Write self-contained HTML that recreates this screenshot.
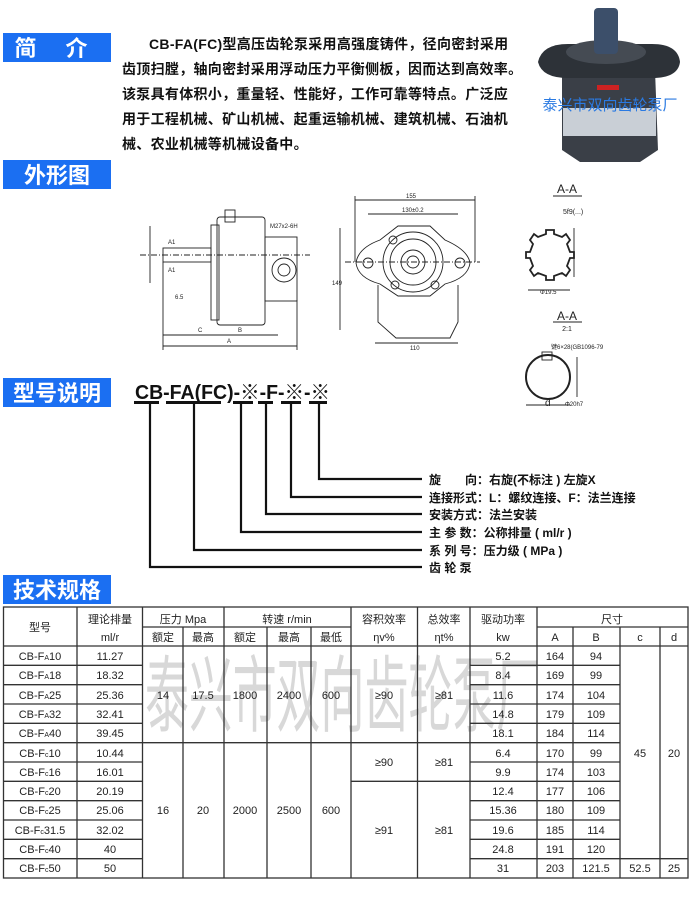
<!DOCTYPE html>
<html><head><meta charset="utf-8"><style>
html,body{margin:0;padding:0;background:#fff;}
body{width:692px;height:900px;overflow:hidden;position:relative;font-family:"Liberation Sans","Noto Sans CJK SC",sans-serif;}
.box{position:absolute;left:3px;width:108px;height:29px;background:#1b6ff2;color:#fff;font-weight:bold;font-size:22px;line-height:29px;text-align:center;font-family:"Noto Sans CJK SC",sans-serif;}
.para{position:absolute;left:122px;top:32px;width:410px;font-size:14px;letter-spacing:0.3px;font-weight:bold;line-height:25px;color:#111;font-family:"Liberation Sans","Noto Sans CJK SC",sans-serif;}
svg text{font-family:"Liberation Sans","Noto Sans CJK SC",sans-serif;}
</style></head><body>
<div class="box" style="top:33px;letter-spacing:12px;">简 介</div>
<div class="box" style="top:160px;">外形图</div>
<div class="box" style="top:378px;">型号说明</div>
<div class="box" style="top:575px;">技术规格</div>
<div class="para"><span style="padding-left:27px"></span>CB-FA(FC)型高压齿轮泵采用高强度铸件，径向密封采用<br>齿顶扫膛，轴向密封采用浮动压力平衡侧板，因而达到高效率。<br>该泵具有体积小，重量轻、性能好，工作可靠等特点。广泛应<br>用于工程机械、矿山机械、起重运输机械、建筑机械、石油机<br>械、农业机械等机械设备中。</div>
<svg width="692" height="900" style="position:absolute;left:0;top:0" xmlns="http://www.w3.org/2000/svg">
<!-- pump photo -->
<g>
<path d="M562 70 L655 70 L658 150 L640 162 L580 162 L562 150 Z" fill="#3a3f47"/>
<rect x="563" y="108" width="93" height="28" fill="#c9cfd6"/>
<path d="M538 62 Q542 44 568 44 L652 44 Q678 44 680 62 Q678 78 652 78 L568 78 Q542 78 538 62 Z" fill="#2d3238"/>
<ellipse cx="606" cy="52" rx="40" ry="12" fill="#454b53"/>
<rect x="594" y="8" width="24" height="46" rx="4" fill="#3c4f6a"/>
<rect x="597" y="85" width="22" height="5" fill="#c22"/>
<text x="610" y="110" font-size="15" fill="#2a7ae2" text-anchor="middle" font-family="Noto Sans CJK SC,sans-serif">泰兴市双向齿轮泵厂</text>
</g>
<!-- side view -->
<g stroke="#222" stroke-width="0.9" fill="none">
<rect x="217" y="217" width="48" height="108" rx="3"/>
<rect x="211" y="225" width="8" height="95"/>
<rect x="163" y="248" width="48" height="14"/>
<rect x="265" y="237" width="32" height="64"/>
<circle cx="284" cy="270" r="12"/><circle cx="284" cy="270" r="6"/>
<rect x="225" y="210" width="10" height="12"/>
<line x1="150" y1="226" x2="150" y2="283"/>
<line x1="163" y1="346" x2="297" y2="346"/><line x1="163" y1="335" x2="197" y2="335"/><line x1="197" y1="335" x2="278" y2="335"/>
<line x1="163" y1="262" x2="163" y2="350"/><line x1="297" y1="300" x2="297" y2="350"/>
<line x1="140" y1="255" x2="310" y2="255" stroke-dasharray="6 2 1 2"/>
</g>
<g font-size="6" fill="#222"><text x="198" y="332">C</text><text x="238" y="332">B</text><text x="227" y="343">A</text><text x="168" y="244">A1</text><text x="168" y="272">A1</text><text x="175" y="299">6.5</text><text x="270" y="228">M27x2-6H</text></g>
<!-- front view -->
<g stroke="#222" stroke-width="0.9" fill="none">
<path d="M356 263 Q358 248 380 240 L398 226 L430 226 L445 240 Q468 250 470 263 Q468 278 445 284 L430 296 L398 296 L380 284 Q358 278 356 263 Z"/>
<path d="M378 285 L378 322 L396 338 L450 338 L458 322 L458 285"/>
<circle cx="413" cy="262" r="30"/><circle cx="413" cy="262" r="23"/><circle cx="413" cy="262" r="12"/><circle cx="413" cy="262" r="6"/>
<circle cx="368" cy="263" r="5"/><circle cx="460" cy="263" r="5"/>
<circle cx="393" cy="240" r="4"/><circle cx="395" cy="285" r="4"/><circle cx="435" cy="285" r="4"/>
<line x1="355" y1="200" x2="475" y2="200"/><line x1="368" y1="214" x2="458" y2="214"/>
<line x1="375" y1="343" x2="458" y2="343"/><line x1="340" y1="228" x2="340" y2="330"/>
<line x1="355" y1="196" x2="355" y2="262"/><line x1="475" y1="196" x2="475" y2="262"/>
<line x1="345" y1="262" x2="480" y2="262" stroke-dasharray="6 2 1 2"/>
</g>
<g font-size="6" fill="#222"><text x="406" y="198">155</text><text x="402" y="212">130±0.2</text><text x="410" y="350">110</text><text x="332" y="285">149</text></g>
<!-- A-A sections -->
<g fill="#222"><text x="567" y="193" font-size="12" text-anchor="middle" font-family="Liberation Serif,serif">A-A</text><line x1="553" y1="196" x2="582" y2="196" stroke="#222"/>
<text x="567" y="320" font-size="12" text-anchor="middle" font-family="Liberation Serif,serif">A-A</text><line x1="553" y1="322" x2="582" y2="322" stroke="#222"/><text x="567" y="331" font-size="7" text-anchor="middle">2:1</text>
<text x="563" y="214" font-size="7">5f9(...)</text><text x="540" y="294" font-size="6">Φ19.5</text><text x="551" y="349" font-size="6">键6×28(GB1096-79</text><text x="545" y="406" font-size="10" font-family="Liberation Serif,serif">d</text><text x="565" y="406" font-size="6">Φ20h7</text></g>
<g stroke="#222" stroke-width="0.9" fill="none">
<path d="M546 230 h8 v4 l8 3 l4 -3 l4 6 l-3 4 l3 8 l4 0 v6 l-4 0 l-3 8 l3 4 l-4 6 l-4 -3 l-8 3 v4 h-8 v-4 l-8 -3 l-4 3 l-4 -6 l3 -4 l-3 -8 l-4 0 v-6 l4 0 l3 -8 l-3 -4 l4 -6 l4 3 l8 -3 z" stroke-width="1.8"/>
<circle cx="548" cy="377" r="22" stroke-width="2"/>
<rect x="542" y="352" width="10" height="8"/>
<line x1="574" y1="228" x2="574" y2="277"/><line x1="528" y1="290" x2="570" y2="290"/><line x1="526" y1="405" x2="570" y2="405"/>
<line x1="577" y1="357" x2="577" y2="397"/>
</g>
<!-- model code -->
<text x="135" y="399" font-size="20" font-weight="bold" fill="#111" textLength="195" lengthAdjust="spacingAndGlyphs">CB-FA(FC)-※-F-※-※</text>
<g fill="#111">
<rect x="134" y="401" width="25" height="3"/><rect x="166" y="401" width="55" height="3"/><rect x="233" y="401" width="20" height="3"/><rect x="258" y="401" width="15" height="3"/><rect x="281" y="401" width="20" height="3"/><rect x="309" y="401" width="18" height="3"/>
</g>
<g stroke="#111" stroke-width="2.2" fill="none">
<path d="M150 403 V567 H422"/><path d="M194 403 V550 H422"/><path d="M241 403 V532 H422"/><path d="M266 403 V514 H422"/><path d="M291 403 V497 H422"/><path d="M319 403 V479 H422"/>
</g>
<g font-size="12" font-weight="bold" fill="#111">
<text x="429" y="484">旋　　向：右旋(不标注 ) 左旋X</text>
<text x="429" y="502">连接形式：L：螺纹连接、F：法兰连接</text>
<text x="429" y="519">安装方式：法兰安装</text>
<text x="429" y="537">主 参 数：公称排量 ( ml/r )</text>
<text x="429" y="555">系 列 号：压力级 ( MPa )</text>
<text x="429" y="572">齿 轮 泵</text>
</g>
<!-- table watermark -->
<text transform="translate(145,725) scale(1,1.9)" font-size="44" fill="#d8d8d8" font-family="Noto Sans CJK SC,sans-serif" textLength="395" lengthAdjust="spacingAndGlyphs">泰兴市双向齿轮泵厂</text>
<!-- table -->
<g stroke="#333" stroke-width="1.3" fill="none">
<rect x="3.5" y="607" width="684.5" height="271"/>
<line x1="77" y1="607" x2="77" y2="878"/><line x1="142.5" y1="607" x2="142.5" y2="878"/>
<line x1="183" y1="627" x2="183" y2="878"/><line x1="224" y1="607" x2="224" y2="878"/>
<line x1="267" y1="627" x2="267" y2="878"/><line x1="311" y1="627" x2="311" y2="878"/>
<line x1="351" y1="607" x2="351" y2="878"/><line x1="417.5" y1="607" x2="417.5" y2="878"/>
<line x1="470" y1="607" x2="470" y2="878"/><line x1="537" y1="607" x2="537" y2="878"/>
<line x1="573" y1="627" x2="573" y2="878"/><line x1="620" y1="627" x2="620" y2="878"/><line x1="660" y1="627" x2="660" y2="878"/>
<line x1="142.5" y1="627" x2="351" y2="627"/><line x1="537" y1="627" x2="688" y2="627"/>
<line x1="3.5" y1="646" x2="688" y2="646"/>
<line x1="3.5" y1="665.3" x2="142.5" y2="665.3"/><line x1="470" y1="665.3" x2="620" y2="665.3"/>
<line x1="3.5" y1="684.7" x2="142.5" y2="684.7"/><line x1="470" y1="684.7" x2="620" y2="684.7"/>
<line x1="3.5" y1="704" x2="142.5" y2="704"/><line x1="470" y1="704" x2="620" y2="704"/>
<line x1="3.5" y1="723.3" x2="142.5" y2="723.3"/><line x1="470" y1="723.3" x2="620" y2="723.3"/>
<line x1="3.5" y1="742.7" x2="470" y2="742.7"/><line x1="470" y1="742.7" x2="620" y2="742.7"/>
<line x1="3.5" y1="762" x2="142.5" y2="762"/><line x1="470" y1="762" x2="620" y2="762"/>
<line x1="3.5" y1="781.3" x2="142.5" y2="781.3"/><line x1="351" y1="781.3" x2="470" y2="781.3"/><line x1="470" y1="781.3" x2="620" y2="781.3"/>
<line x1="3.5" y1="800.7" x2="142.5" y2="800.7"/><line x1="470" y1="800.7" x2="620" y2="800.7"/>
<line x1="3.5" y1="820" x2="142.5" y2="820"/><line x1="470" y1="820" x2="620" y2="820"/>
<line x1="3.5" y1="839.3" x2="142.5" y2="839.3"/><line x1="470" y1="839.3" x2="620" y2="839.3"/>
<line x1="3.5" y1="858.7" x2="142.5" y2="858.7"/><line x1="470" y1="858.7" x2="688" y2="858.7"/>
</g>
<g font-size="11" fill="#222" text-anchor="middle" font-family="Liberation Mono,Noto Sans CJK SC,monospace">
<text x="40" y="631" font-family="Noto Sans CJK SC,sans-serif">型号</text>
<text x="110" y="623" font-family="Noto Sans CJK SC,sans-serif">理论排量</text><text x="110" y="641">ml/r</text>
<text x="183" y="623"><tspan font-family="Noto Sans CJK SC,sans-serif">压力</tspan> Mpa</text>
<text x="163" y="641" font-family="Noto Sans CJK SC,sans-serif">额定</text><text x="203" y="641" font-family="Noto Sans CJK SC,sans-serif">最高</text>
<text x="287" y="623"><tspan font-family="Noto Sans CJK SC,sans-serif">转速</tspan> r/min</text>
<text x="245" y="641" font-family="Noto Sans CJK SC,sans-serif">额定</text><text x="289" y="641" font-family="Noto Sans CJK SC,sans-serif">最高</text><text x="331" y="641" font-family="Noto Sans CJK SC,sans-serif">最低</text>
<text x="384" y="623" font-family="Noto Sans CJK SC,sans-serif">容积效率</text><text x="384" y="641">ηv%</text>
<text x="444" y="623" font-family="Noto Sans CJK SC,sans-serif">总效率</text><text x="444" y="641">ηt%</text>
<text x="503" y="623" font-family="Noto Sans CJK SC,sans-serif">驱动功率</text><text x="503" y="641">kw</text>
<text x="612" y="623" font-family="Noto Sans CJK SC,sans-serif">尺寸</text>
<text x="555" y="641">A</text><text x="596" y="641">B</text><text x="640" y="641">c</text><text x="674" y="641">d</text>
<text x="40" y="660">CB-F<tspan font-size="7">A</tspan>10</text><text x="110" y="660">11.27</text><text x="503" y="660">5.2</text><text x="555" y="660">164</text><text x="596" y="660">94</text>
<text x="40" y="679">CB-F<tspan font-size="7">A</tspan>18</text><text x="110" y="679">18.32</text><text x="503" y="679">8.4</text><text x="555" y="679">169</text><text x="596" y="679">99</text>
<text x="40" y="699">CB-F<tspan font-size="7">A</tspan>25</text><text x="110" y="699">25.36</text><text x="503" y="699">11.6</text><text x="555" y="699">174</text><text x="596" y="699">104</text>
<text x="40" y="718">CB-F<tspan font-size="7">A</tspan>32</text><text x="110" y="718">32.41</text><text x="503" y="718">14.8</text><text x="555" y="718">179</text><text x="596" y="718">109</text>
<text x="40" y="737">CB-F<tspan font-size="7">A</tspan>40</text><text x="110" y="737">39.45</text><text x="503" y="737">18.1</text><text x="555" y="737">184</text><text x="596" y="737">114</text>
<text x="40" y="757">CB-F<tspan font-size="7">c</tspan>10</text><text x="110" y="757">10.44</text><text x="503" y="757">6.4</text><text x="555" y="757">170</text><text x="596" y="757">99</text>
<text x="40" y="776">CB-F<tspan font-size="7">c</tspan>16</text><text x="110" y="776">16.01</text><text x="503" y="776">9.9</text><text x="555" y="776">174</text><text x="596" y="776">103</text>
<text x="40" y="795">CB-F<tspan font-size="7">c</tspan>20</text><text x="110" y="795">20.19</text><text x="503" y="795">12.4</text><text x="555" y="795">177</text><text x="596" y="795">106</text>
<text x="40" y="814">CB-F<tspan font-size="7">c</tspan>25</text><text x="110" y="814">25.06</text><text x="503" y="814">15.36</text><text x="555" y="814">180</text><text x="596" y="814">109</text>
<text x="40" y="834">CB-F<tspan font-size="7">c</tspan>31.5</text><text x="110" y="834">32.02</text><text x="503" y="834">19.6</text><text x="555" y="834">185</text><text x="596" y="834">114</text>
<text x="40" y="853">CB-F<tspan font-size="7">c</tspan>40</text><text x="110" y="853">40</text><text x="503" y="853">24.8</text><text x="555" y="853">191</text><text x="596" y="853">120</text>
<text x="40" y="872">CB-F<tspan font-size="7">c</tspan>50</text><text x="110" y="872">50</text><text x="503" y="872">31</text><text x="555" y="872">203</text><text x="596" y="872">121.5</text><text x="640" y="872">52.5</text><text x="674" y="872">25</text>
<text x="163" y="699">14</text><text x="203" y="699">17.5</text><text x="245" y="699">1800</text><text x="289" y="699">2400</text><text x="331" y="699">600</text><text x="384" y="699">≥90</text><text x="444" y="699">≥81</text>
<text x="384" y="766">≥90</text><text x="444" y="766">≥81</text>
<text x="163" y="814">16</text><text x="203" y="814">20</text><text x="245" y="814">2000</text><text x="289" y="814">2500</text><text x="331" y="814">600</text>
<text x="384" y="834">≥91</text><text x="444" y="834">≥81</text>
<text x="640" y="757">45</text><text x="674" y="757">20</text>
</g>
</svg>
</body></html>
